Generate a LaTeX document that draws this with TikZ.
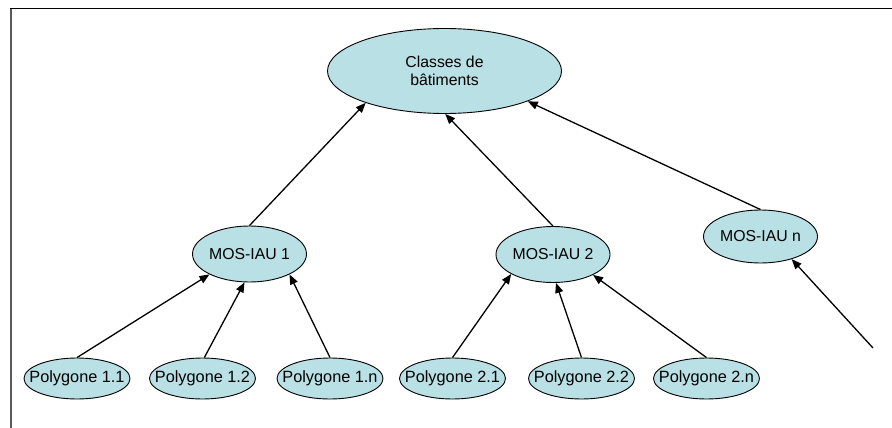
\documentclass[tikz,border=0pt]{standalone}
\usepackage{fontspec}
\setmainfont{Liberation Sans}
\usetikzlibrary{shapes.geometric,arrows.meta}
\definecolor{nodefill}{RGB}{185,224,228}
\begin{document}
\begin{tikzpicture}[x=1pt,y=-1pt,
  oval/.style={ellipse,draw=black,line width=0.9pt,fill=nodefill,inner sep=0pt,font=\fontsize{15.8}{18}\selectfont},
  leaf/.style={oval,minimum width=106pt,minimum height=41pt,font=\fontsize{16.3}{18}\selectfont},
  mid/.style={oval,minimum width=114pt,minimum height=56pt},
  arr/.style={line width=1.3pt,-{Triangle[length=10pt,width=8pt]}}]
\useasboundingbox (0,0) rectangle (892,428);
\fill[white] (0,0) rectangle (892,428);
\draw[gray!70!black,line width=1.2pt] (11,428) -- (11,9);
\draw[black,line width=1pt] (10.4,9) -- (892,9);
\node[oval,minimum width=234pt,minimum height=85pt,align=center] (cls) at (444.5,71) {Classes de\\bâtiments};
\node[mid] (m1) at (249.5,254) {\makebox[0pt]{MOS-IAU 1}};
\node[mid] (m2) at (553,254.5) {\makebox[0pt]{MOS-IAU 2}};
\node[mid,minimum height=53pt] (mn) at (760.5,236.5) {\makebox[0pt]{MOS-IAU n}};
\node[leaf] (p11) at (77,378.5) {\makebox[0pt]{Polygone 1.1}};
\node[leaf] (p12) at (202.5,378.5) {\makebox[0pt]{Polygone 1.2}};
\node[leaf] (p1n) at (330,378.5) {\makebox[0pt]{Polygone 1.n}};
\node[leaf] (p21) at (452.5,378.5) {\makebox[0pt]{Polygone 2.1}};
\node[leaf] (p22) at (581.5,378.5) {\makebox[0pt]{Polygone 2.2}};
\node[leaf] (p2n) at (706.5,378.5) {\makebox[0pt]{Polygone 2.n}};
\coordinate (free) at (873,348);
\draw[arr] (m1.north) -- (cls.202);
\draw[arr] (m2.north) -- (cls.271);
\draw[arr] (mn.north) -- (cls.340);
\draw[arr] (p11.north) -- (m1.207);
\draw[arr] (p12.85) -- (m1.260);
\draw[arr] (p1n.north) -- (m1.333);
\draw[arr] (p21.north) -- (m2.205);
\draw[arr] (p22.north) -- (m2.276);
\draw[arr] (p2n.north) -- (m2.333);
\draw[arr] (free) -- (mn.324);
\end{tikzpicture}
\end{document}
